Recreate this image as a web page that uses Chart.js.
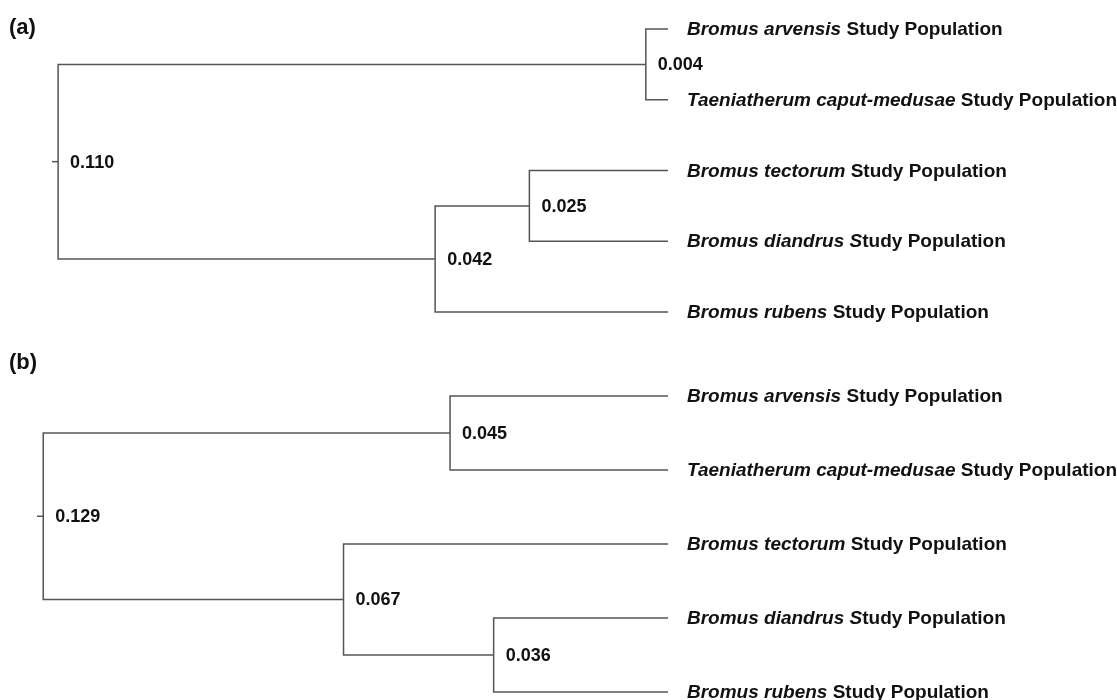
<!DOCTYPE html>
<html>
<head>
<meta charset="utf-8">
<script src="https://cdn.jsdelivr.net/npm/chart.js@4.4.1/dist/chart.umd.min.js"></script>
<style>
  html, body { margin: 0; padding: 0; background: #fff; }
  body { width: 1117px; height: 700px; position: relative; overflow: hidden; }
  canvas { position: absolute; left: 0; }
  #treeA { top: 0; }
  #treeB { top: 335px; }
</style>
</head>
<body>
<canvas id="treeA" width="1117" height="335"></canvas>
<canvas id="treeB" width="1117" height="365"></canvas>
<script>
// Leaf labels: italic species part followed by upright part
const leafItalicA = ['Bromus arvensis', 'Taeniatherum caput-medusae', 'Bromus tectorum', 'Bromus diandrus S', 'Bromus rubens'];
const leafPlainA  = [' Study Population', ' Study Population', ' Study Population', 'tudy Population', ' Study Population'];
const leafItalicB = ['Bromus arvensis', 'Taeniatherum caput-medusae', 'Bromus tectorum', 'Bromus diandrus S', 'Bromus rubens'];
const leafPlainB  = [' Study Population', ' Study Population', ' Study Population', 'tudy Population', ' Study Population'];

// Merges (leaves are 0-4, merged clusters are numbered 5, 6, 7, 8 in order)
const mergesA  = [[0, 1], [2, 3], [6, 4], [5, 7]];
const heightsA = [0.004, 0.025, 0.042, 0.110];
const mergesB  = [[0, 1], [3, 4], [2, 6], [5, 7]];
const heightsB = [0.045, 0.036, 0.067, 0.129];

const LINE = '#555555';
const INK = '#111111';
const FONT = '"Liberation Sans", Arial, Helvetica, sans-serif';

function buildTree(merges, heights, nLeaves) {
  const h = [], y = [];
  for (let i = 0; i < nLeaves; i++) { h.push(0); y.push(i); }
  const datasets = [];
  const nodes = [];
  merges.forEach(([a, b], k) => {
    const hk = heights[k];
    const yk = (y[a] + y[b]) / 2;
    h.push(hk); y.push(yk);
    nodes.push({ h: hk, y: yk });
    datasets.push({
      data: [{ x: h[a], y: y[a] }, { x: hk, y: y[a] }, { x: hk, y: y[b] }, { x: h[b], y: y[b] }]
    });
  });
  const root = nodes[nodes.length - 1];
  const stubEnd = root.h * 1.01;
  datasets.push({ data: [{ x: root.h, y: root.y }, { x: stubEnd, y: root.y }] });
  datasets.forEach(d => Object.assign(d, {
    showLine: true, borderColor: LINE, borderWidth: 1.5, pointRadius: 0,
    pointHoverRadius: 0, fill: false, tension: 0, clip: false
  }));
  return { datasets, nodes, stubEnd };
}

const labelPlugin = {
  id: 'dendroLabels',
  afterDatasetsDraw(chart, args, opts) {
    const ctx = chart.ctx;
    const xs = chart.scales.x, ys = chart.scales.y;
    ctx.save();
    ctx.fillStyle = INK;
    ctx.textBaseline = 'middle';
    ctx.textAlign = 'left';
    // panel letter
    ctx.font = 'bold 22px ' + FONT;
    ctx.fillText(opts.panel, 9, 28);
    // node heights
    ctx.font = 'bold 18px ' + FONT;
    opts.nodes.forEach(n => {
      ctx.fillText(n.h.toFixed(3), xs.getPixelForValue(n.h) + 12, ys.getPixelForValue(n.y) + 1);
    });
    // leaf names
    const x0 = chart.chartArea.right + 19;
    opts.italic.forEach((it, i) => {
      const yy = ys.getPixelForValue(i) + 1;
      ctx.font = 'italic bold 19px ' + FONT;
      ctx.fillText(it, x0, yy);
      const w = ctx.measureText(it).width;
      ctx.font = 'bold 19px ' + FONT;
      ctx.fillText(opts.plain[i], x0 + w, yy);
    });
    ctx.restore();
  }
};

function makeChart(id, merges, heights, italic, plain, panel, padding) {
  const t = buildTree(merges, heights, italic.length);
  return new Chart(document.getElementById(id), {
    type: 'scatter',
    data: { datasets: t.datasets },
    options: {
      responsive: false,
      animation: false,
      events: [],
      layout: { padding },
      scales: {
        x: { type: 'linear', reverse: true, min: 0, max: t.stubEnd, display: false },
        y: { type: 'linear', reverse: true, min: 0, max: italic.length - 1, display: false }
      },
      plugins: {
        legend: { display: false },
        tooltip: { enabled: false },
        dendroLabels: { panel, nodes: t.nodes, italic, plain }
      }
    },
    plugins: [labelPlugin]
  });
}

makeChart('treeA', mergesA, heightsA, leafItalicA, leafPlainA, '(a)',
  { left: 52, right: 449, top: 29, bottom: 23 });
makeChart('treeB', mergesB, heightsB, leafItalicB, leafPlainB, '(b)',
  { left: 37, right: 449, top: 61, bottom: 8 });
</script>
</body>
</html>
